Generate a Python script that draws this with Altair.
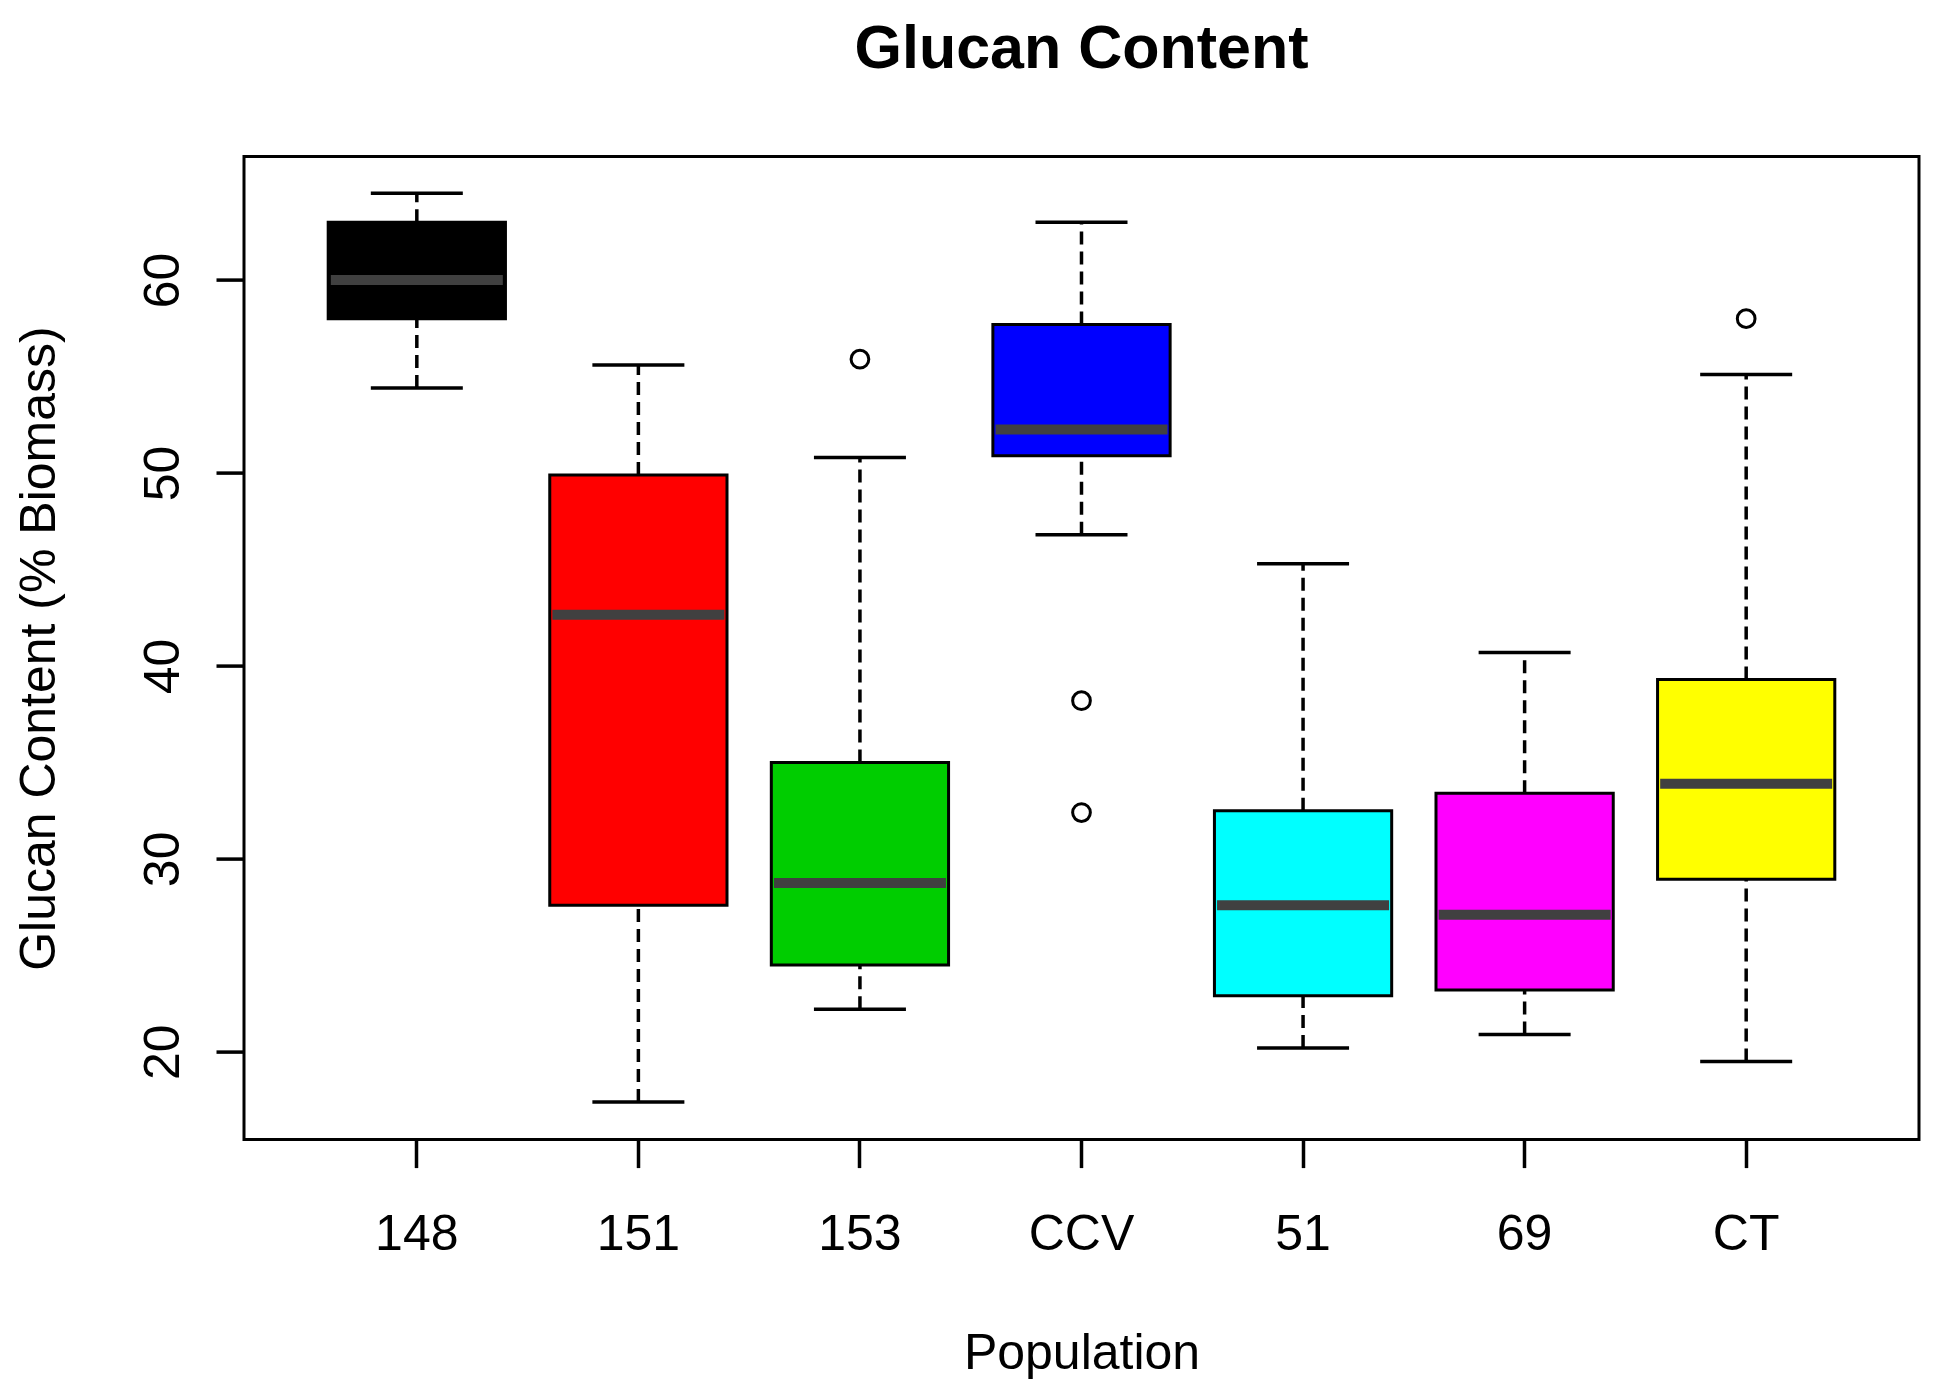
import altair as alt
import pandas as pd

# Box-plot summary values
populations = ["148", "151", "153", "CCV", "51", "69", "CT"]
whisker_low = [54.4, 17.4, 22.2, 46.8, 20.2, 20.9, 19.5]
q1_values = [58.0, 27.6, 24.5, 50.9, 22.9, 23.2, 28.95]
medians = [60.0, 42.65, 28.75, 52.25, 27.6, 27.1, 33.9]
q3_values = [63.0, 49.9, 35.0, 57.7, 32.5, 33.4, 39.3]
whisker_high = [64.5, 55.6, 50.8, 63.0, 45.3, 40.7, 55.1]
box_colors = ["#000000", "#FF0000", "#00CD00", "#0000FF", "#00FFFF", "#FF00FF", "#FFFF00"]

outlier_pop = ["153", "CCV", "CCV", "CT"]
outlier_val = [55.9, 38.2, 32.4, 58.0]

y_ticks = [20, 30, 40, 50, 60]

FONT = "Liberation Sans"

stats = pd.DataFrame({
    "pop": populations,
    "lo": whisker_low,
    "q1": q1_values,
    "med": medians,
    "q3": q3_values,
    "hi": whisker_high,
})
outliers = pd.DataFrame({"pop": outlier_pop, "val": outlier_val})

x_enc = alt.X(
    "pop:N",
    sort=populations,
    scale=alt.Scale(domain=populations, paddingInner=0, paddingOuter=0.28),
    axis=alt.Axis(
        title="Population",
        titleFontSize=50,
        titleFontWeight="normal",
        titleFont=FONT,
        titleColor="black",
        titleBaseline="alphabetic",
        titleY=229,
        labelFontSize=50,
        labelFont=FONT,
        labelColor="black",
        labelAngle=0,
        labelPadding=42,
        tickSize=28,
        tickWidth=3.5,
        tickColor="black",
        domain=False,
        grid=False,
    ),
)

y_scale = alt.Scale(domain=[15.45, 66.4], zero=False, nice=False)
y_axis = alt.Axis(
    title="Glucan Content (% Biomass)",
    titleFontSize=50,
    titleFontWeight="normal",
    titleFont=FONT,
    titleColor="black",
    titleAngle=270,
    titleBaseline="alphabetic",
    titleX=-190,
    values=y_ticks,
    labelFontSize=50,
    labelFont=FONT,
    labelColor="black",
    labelAngle=270,
    labelAlign="center",
    labelBaseline="bottom",
    labelPadding=28,
    tickSize=28,
    tickWidth=3.5,
    tickColor="black",
    domain=False,
    grid=False,
)

base = alt.Chart(stats)

whisk_lo = base.mark_rule(color="black", strokeWidth=3.5, strokeDash=[13, 7], opacity=1).encode(
    x=x_enc,
    y=alt.Y("lo:Q", scale=y_scale, axis=y_axis),
    y2="q1:Q",
)
whisk_hi = base.mark_rule(color="black", strokeWidth=3.5, strokeDash=[13, 7], opacity=1).encode(
    x=x_enc,
    y=alt.Y("q3:Q", scale=y_scale, axis=y_axis),
    y2="hi:Q",
)
cap_lo = base.mark_tick(color="black", size=92, thickness=3.5, orient="horizontal", opacity=1).encode(
    x=x_enc,
    y=alt.Y("lo:Q", scale=y_scale, axis=y_axis),
)
cap_hi = base.mark_tick(color="black", size=92, thickness=3.5, orient="horizontal", opacity=1).encode(
    x=x_enc,
    y=alt.Y("hi:Q", scale=y_scale, axis=y_axis),
)
boxes = base.mark_bar(stroke="black", strokeWidth=3, opacity=1, width=alt.RelativeBandSize(0.8)).encode(
    x=x_enc,
    y=alt.Y("q1:Q", scale=y_scale, axis=y_axis),
    y2="q3:Q",
    fill=alt.Fill("pop:N", scale=alt.Scale(domain=populations, range=box_colors), legend=None),
)
median_marks = base.mark_tick(color="#404040", size=172, thickness=10, orient="horizontal", opacity=1).encode(
    x=x_enc,
    y=alt.Y("med:Q", scale=y_scale, axis=y_axis),
)
points = alt.Chart(outliers).mark_point(
    shape="circle", filled=False, color="black", size=314, strokeWidth=3, opacity=1
).encode(
    x=x_enc,
    y=alt.Y("val:Q", scale=y_scale, axis=y_axis),
)

chart = alt.layer(
    whisk_lo, whisk_hi, cap_lo, cap_hi, boxes, median_marks, points
).properties(
    width=1675,
    height=983,
    padding={"left": 236, "top": 148.6, "right": 2, "bottom": 242},
    autosize=alt.AutoSizeParams(type="none"),
    title=alt.TitleParams(
        "Glucan Content",
        fontSize=61,
        fontWeight="bold",
        font=FONT,
        color="black",
        anchor="middle",
        frame="group",
        offset=76,
    ),
).configure_view(
    stroke="black", strokeWidth=3
)

chart.save("out.html", embed_options={"renderer": "svg", "actions": False})
